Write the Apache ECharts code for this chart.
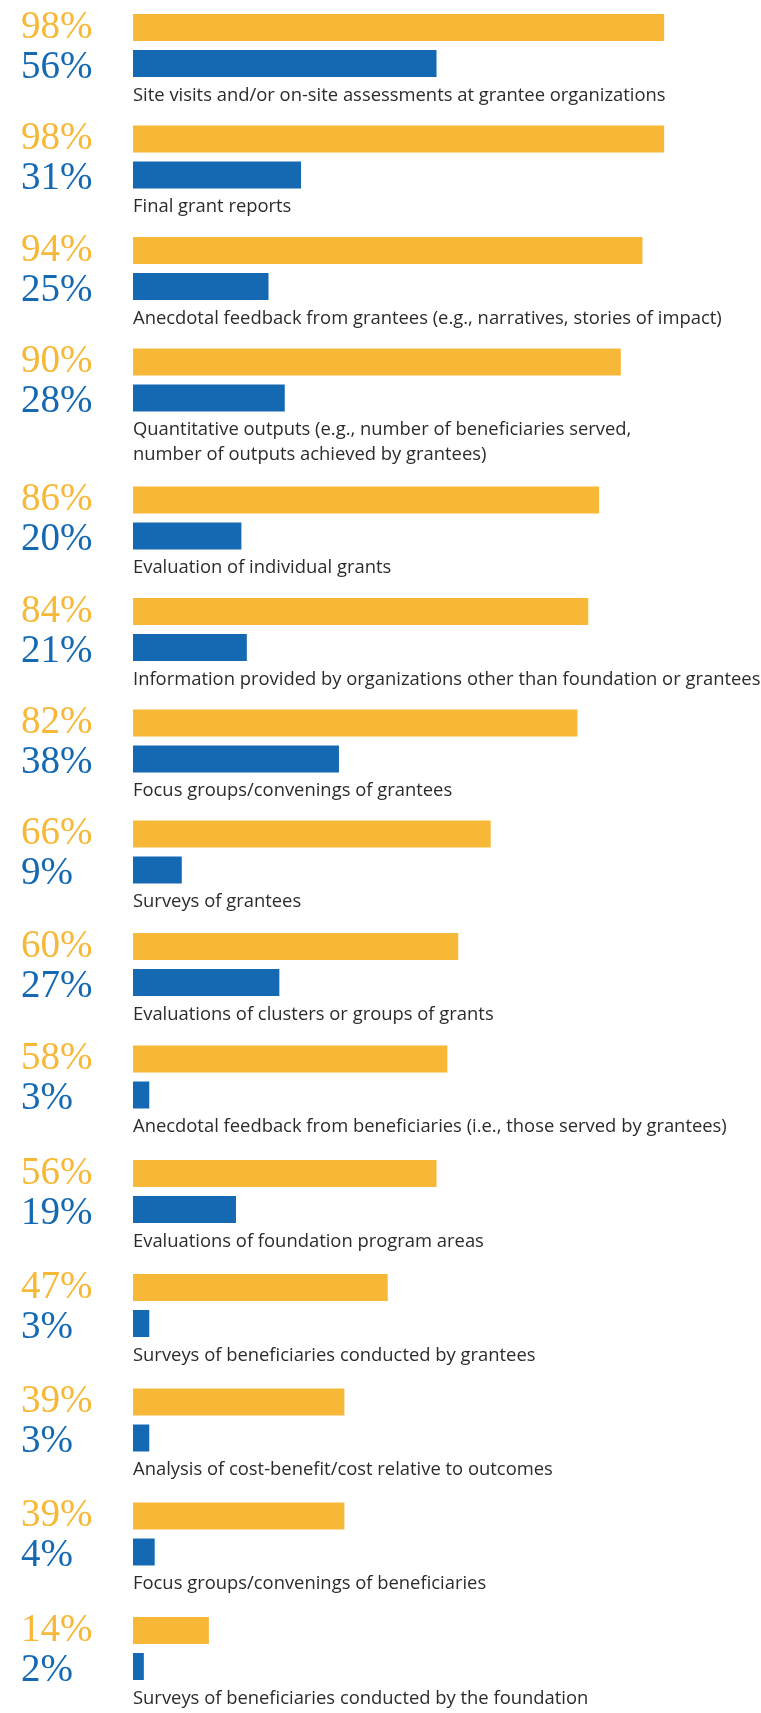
<!DOCTYPE html>
<html>
<head>
<meta charset="utf-8">
<script src="https://cdn.jsdelivr.net/npm/echarts@6/dist/echarts.min.js"></script>
<style>
html,body{margin:0;padding:0;background:#fff;}
#chart{width:761px;height:1713px;}
</style>
</head>
<body>
<div id="chart"></div>
<script>
const categories = [
  'Site visits and/or on-site assessments at grantee organizations',
  'Final grant reports',
  'Anecdotal feedback from grantees (e.g., narratives, stories of impact)',
  'Quantitative outputs (e.g., number of beneficiaries served,\nnumber of outputs achieved by grantees)',
  'Evaluation of individual grants',
  'Information provided by organizations other than foundation or grantees',
  'Focus groups/convenings of grantees',
  'Surveys of grantees',
  'Evaluations of clusters or groups of grants',
  'Anecdotal feedback from beneficiaries (i.e., those served by grantees)',
  'Evaluations of foundation program areas',
  'Surveys of beneficiaries conducted by grantees',
  'Analysis of cost-benefit/cost relative to outcomes',
  'Focus groups/convenings of beneficiaries',
  'Surveys of beneficiaries conducted by the foundation'
];
const yellowValues = [98, 98, 94, 90, 86, 84, 82, 66, 60, 58, 56, 47, 39, 39, 14];
const blueValues   = [56, 31, 25, 28, 20, 21, 38, 9, 27, 3, 19, 3, 3, 4, 2];

// layout: top (px) of each group's panel
const groupTops = [9.5, 121, 232.5, 344, 482, 593.5, 705, 816, 928.5, 1041, 1155.5, 1269.5, 1384, 1498, 1612.5];

const YELLOW = '#F6B836';
const BLUE = '#1569B3';

const grids = [], xAxes = [], yAxes = [], series = [];
categories.forEach((cat, i) => {
  grids.push({left: 133, width: 542, top: groupTops[i], height: 72});
  xAxes.push({type: 'value', gridIndex: i, min: 0, max: 100, show: false});
  yAxes.push({
    type: 'category', gridIndex: i, inverse: true,
    data: [yellowValues[i] + '%', blueValues[i] + '%'],
    axisLine: {show: false}, axisTick: {show: false}, splitLine: {show: false},
    axisLabel: {
      interval: 0, hideOverlap: false,
      margin: 112, align: 'left',
      formatter: (v, idx) => (idx === 0 ? '{y|' + v + '}' : '{b|' + v + '}'),
      rich: {
        y: {color: YELLOW, fontFamily: 'Liberation Serif', fontSize: 39},
        b: {color: BLUE, fontFamily: 'Liberation Serif', fontSize: 39, padding: [8, 0, 0, 0]}
      }
    }
  });
  series.push({
    type: 'bar', xAxisIndex: i, yAxisIndex: i, barWidth: 27,
    data: [
      {value: yellowValues[i], itemStyle: {color: YELLOW}},
      {value: blueValues[i], itemStyle: {color: BLUE},
       label: {show: true, position: [0, 33], formatter: cat, align: 'left', verticalAlign: 'top',
               fontFamily: 'Open Sans', fontSize: 18.4, lineHeight: 25, color: '#2b2b2b'}}
    ]
  });
});

const chart = echarts.init(document.getElementById('chart'), null, {renderer: 'canvas'});
chart.setOption({
  animation: false,
  grid: grids, xAxis: xAxes, yAxis: yAxes, series: series
});
</script>
</body>
</html>
